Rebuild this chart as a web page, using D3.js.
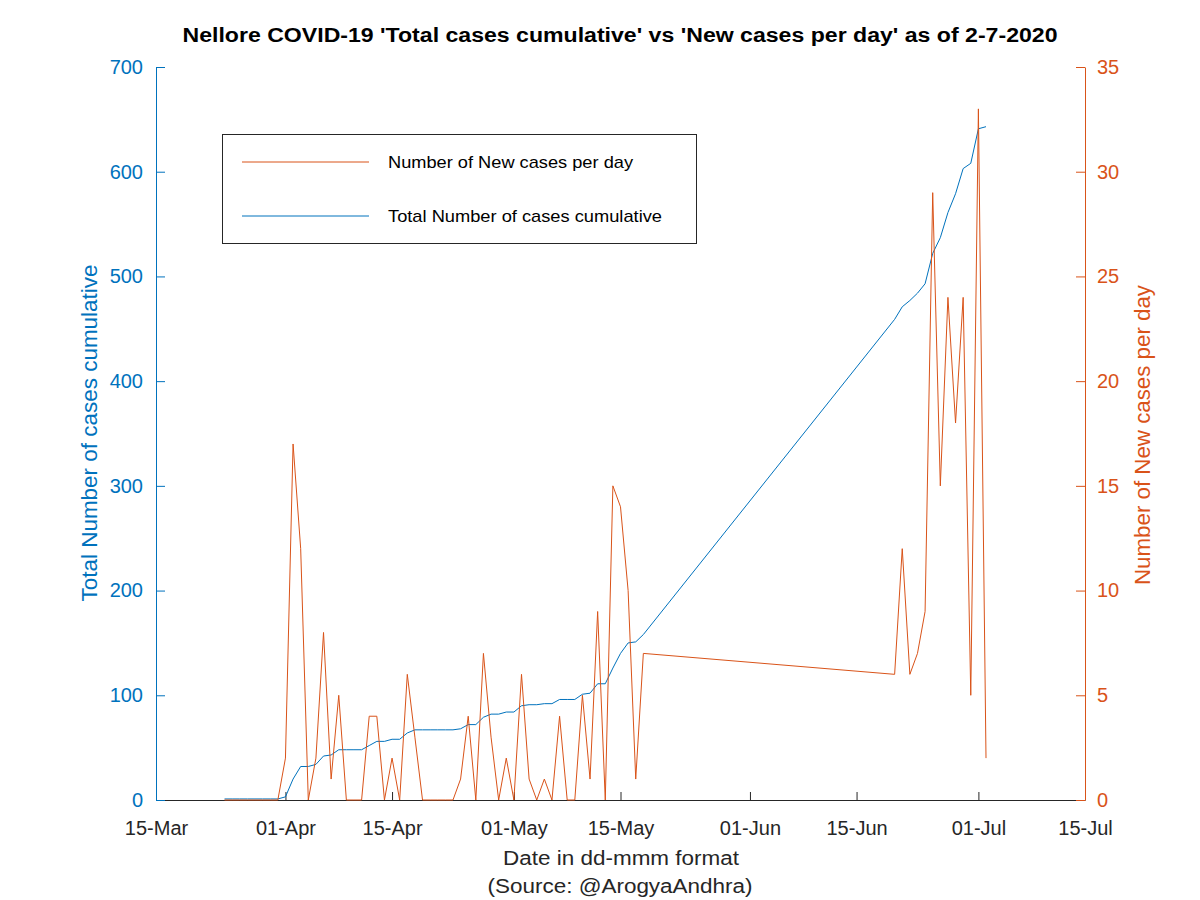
<!DOCTYPE html>
<html>
<head>
<meta charset="utf-8">
<script src="https://cdn.jsdelivr.net/npm/d3@7"></script>
<style>
  body { margin: 0; background: #fff; }
  text { font-family: "Liberation Sans", Arial, Helvetica, sans-serif; }
</style>
</head>
<body>
<svg id="chart" width="1200" height="900"></svg>
<script>
// dates with data (gap between 18-May and 20-Jun in the source)
const dates = [
  "2020-03-24","2020-03-25","2020-03-26","2020-03-27","2020-03-28","2020-03-29","2020-03-30","2020-03-31",
  "2020-04-01","2020-04-02","2020-04-03","2020-04-04","2020-04-05","2020-04-06","2020-04-07","2020-04-08","2020-04-09","2020-04-10",
  "2020-04-11","2020-04-12","2020-04-13","2020-04-14","2020-04-15","2020-04-16","2020-04-17","2020-04-18","2020-04-19","2020-04-20",
  "2020-04-21","2020-04-22","2020-04-23","2020-04-24","2020-04-25","2020-04-26","2020-04-27","2020-04-28","2020-04-29","2020-04-30",
  "2020-05-01","2020-05-02","2020-05-03","2020-05-04","2020-05-05","2020-05-06","2020-05-07","2020-05-08","2020-05-09","2020-05-10",
  "2020-05-11","2020-05-12","2020-05-13","2020-05-14","2020-05-15","2020-05-16","2020-05-17","2020-05-18",
  "2020-06-20","2020-06-21","2020-06-22","2020-06-23","2020-06-24","2020-06-25","2020-06-26","2020-06-27","2020-06-28","2020-06-29","2020-06-30",
  "2020-07-01","2020-07-02"
];

const newCases = [
  0,0,0,0,0,0,0,0,
  2,17,12,0,2,8,1,5,0,0,
  0,4,4,0,2,0,6,3,0,0,
  0,0,0,1,4,0,7,3,0,2,
  0,6,1,0,1,0,4,0,0,5,
  1,9,0,15,14,10,1,7,
  6,12,6,7,9,29,15,24,18,24,5,
  33,2
];

const totalCases = [
  1,1,1,1,1,1,1,1,
  3,20,32,32,34,42,43,48,48,48,
  48,52,56,56,58,58,64,67,67,67,
  67,67,67,68,72,72,79,82,82,84,
  84,90,91,91,92,92,96,96,96,101,
  102,111,111,126,140,150,151,158,
  459,471,477,484,493,522,537,561,579,603,608,
  641,643
];

const xTicks = ["2020-03-15","2020-04-01","2020-04-15","2020-05-01","2020-05-15","2020-06-01","2020-06-15","2020-07-01","2020-07-15"];
const leftTicks = [0,100,200,300,400,500,600,700];
const rightTicks = [0,5,10,15,20,25,30,35];

const blue = "#0072bd", orange = "#d95319", dark = "#262626";

const svg = d3.select("#chart");
const m = {left: 156, right: 1085, top: 67, bottom: 800};

const parse = d3.utcParse("%Y-%m-%d");
const x = d3.scaleUtc()
  .domain([parse("2020-03-15"), parse("2020-07-15")])
  .range([m.left, m.right]);
const yL = d3.scaleLinear().domain([0, 700]).range([m.bottom, m.top]);
const yR = d3.scaleLinear().domain([0, 35]).range([m.bottom, m.top]);

const rows = dates.map((d, i) => ({date: parse(d), nw: newCases[i], tot: totalCases[i]}));

// fit text to a measured width
function fit(sel, w) {
  sel.attr("textLength", w).attr("lengthAdjust", "spacingAndGlyphs");
}

// axes
const xAxis = svg.append("g")
  .attr("transform", `translate(0,${m.bottom})`)
  .call(d3.axisBottom(x).tickValues(xTicks.map(parse)).tickFormat(d3.utcFormat("%d-%b"))
    .tickSizeInner(-8).tickSizeOuter(0).tickPadding(21));
xAxis.select(".domain").attr("stroke", dark);
xAxis.selectAll(".tick line").attr("stroke", dark);
xAxis.selectAll("text").attr("fill", dark).attr("font-size", 20).attr("font-family", null);

const leftAxis = svg.append("g")
  .attr("transform", `translate(${m.left},0)`)
  .call(d3.axisLeft(yL).tickValues(leftTicks).tickSizeInner(-9).tickSizeOuter(0).tickPadding(13));
leftAxis.select(".domain").attr("stroke", blue);
leftAxis.selectAll(".tick line").attr("stroke", blue);
leftAxis.selectAll("text").attr("fill", blue).attr("font-size", 20).attr("font-family", null);

const rightAxis = svg.append("g")
  .attr("transform", `translate(${m.right},0)`)
  .call(d3.axisRight(yR).tickValues(rightTicks).tickSizeInner(-9).tickSizeOuter(0).tickPadding(12));
rightAxis.select(".domain").attr("stroke", orange);
rightAxis.selectAll(".tick line").attr("stroke", orange);
rightAxis.selectAll("text").attr("fill", orange).attr("font-size", 20).attr("font-family", null);

// lines
svg.append("path").datum(rows)
  .attr("fill", "none").attr("stroke", blue).attr("stroke-width", 1)
  .attr("d", d3.line().x(d => x(d.date)).y(d => yL(d.tot)));

svg.append("path").datum(rows)
  .attr("fill", "none").attr("stroke", orange).attr("stroke-width", 1)
  .attr("d", d3.line().x(d => x(d.date)).y(d => yR(d.nw)));

// title and labels
svg.append("text").attr("x", 620).attr("y", 42).attr("text-anchor", "middle")
  .attr("font-size", 20).attr("font-weight", "bold").attr("fill", "#000")
  .text("Nellore COVID-19 'Total cases cumulative' vs 'New cases per day' as of 2-7-2020")
  .call(fit, 875);

svg.append("text").attr("x", 621).attr("y", 865).attr("text-anchor", "middle")
  .attr("font-size", 20).attr("fill", dark).text("Date in dd-mmm format").call(fit, 236);
svg.append("text").attr("x", 620).attr("y", 893).attr("text-anchor", "middle")
  .attr("font-size", 20).attr("fill", dark).text("(Source: @ArogyaAndhra)").call(fit, 265);

svg.append("text").attr("transform", "translate(97,433) rotate(-90)").attr("text-anchor", "middle")
  .attr("font-size", 22).attr("fill", blue).text("Total Number of cases cumulative").call(fit, 337);
svg.append("text").attr("transform", "translate(1150,435) rotate(-90)").attr("text-anchor", "middle")
  .attr("font-size", 22).attr("fill", orange).text("Number of New cases per day").call(fit, 300);

// legend
const lg = svg.append("g");
lg.append("rect").attr("x", 222.5).attr("y", 134.5).attr("width", 474).attr("height", 109)
  .attr("fill", "#fff").attr("stroke", dark).attr("stroke-width", 1);
const items = [
  {label: "Number of New cases per day", color: orange, w: 245, y: 162},
  {label: "Total Number of cases cumulative", color: blue, w: 274, y: 216}
];
items.forEach(it => {
  lg.append("line").attr("x1", 242).attr("x2", 369).attr("y1", it.y).attr("y2", it.y)
    .attr("stroke", it.color).attr("stroke-width", 1);
  lg.append("text").attr("x", 388).attr("y", it.y + 6).attr("font-size", 17).attr("fill", "#000")
    .text(it.label).call(fit, it.w);
});
</script>
</body>
</html>
